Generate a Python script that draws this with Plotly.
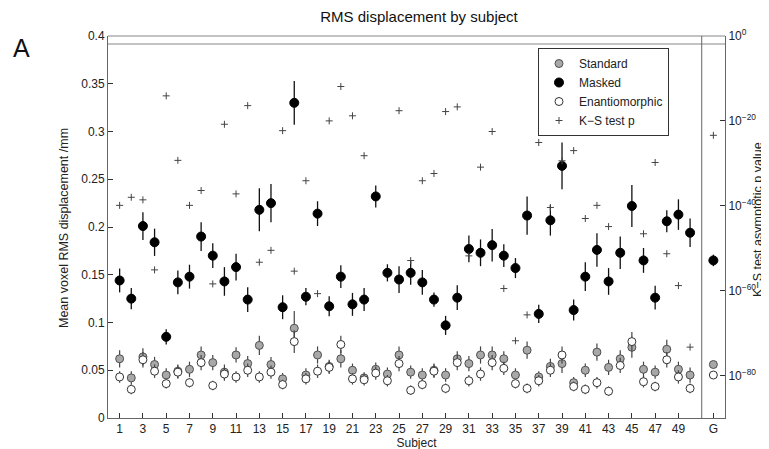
import plotly.graph_objects as go

# ---------------- data ----------------
subjects = list(range(1, 51))
group_x = 52
x_tick_vals = list(range(1, 50, 2)) + [52]
x_tick_text = [str(v) for v in range(1, 50, 2)] + ["G"]

masked = [0.144, 0.125, 0.201, 0.184, 0.085, 0.142, 0.148, 0.190, 0.170, 0.143,
          0.158, 0.124, 0.218, 0.225, 0.116, 0.330, 0.127, 0.214, 0.117, 0.148,
          0.119, 0.124, 0.232, 0.152, 0.145, 0.152, 0.142, 0.124, 0.097, 0.126,
          0.177, 0.173, 0.181, 0.170, 0.157, 0.212, 0.109, 0.207, 0.264, 0.113,
          0.148, 0.176, 0.143, 0.173, 0.222, 0.165, 0.126, 0.206, 0.213, 0.194]
masked_g = 0.165
masked_err = [0.0125, 0.011, 0.0145, 0.0143, 0.008, 0.0125, 0.0125, 0.015, 0.013, 0.015,
              0.014, 0.013, 0.0225, 0.020, 0.0125, 0.023, 0.009, 0.013, 0.0105, 0.012,
              0.012, 0.012, 0.0115, 0.009, 0.014, 0.0125, 0.013, 0.0075, 0.010, 0.013,
              0.014, 0.014, 0.017, 0.012, 0.0105, 0.020, 0.0095, 0.016, 0.0245, 0.011,
              0.015, 0.0175, 0.014, 0.017, 0.022, 0.013, 0.0125, 0.0115, 0.016, 0.015]
masked_err_g = 0.006

standard = [0.062, 0.042, 0.064, 0.056, 0.045, 0.049, 0.051, 0.066, 0.058, 0.048,
            0.066, 0.057, 0.076, 0.056, 0.041, 0.094, 0.045, 0.066, 0.054, 0.062,
            0.050, 0.042, 0.051, 0.046, 0.066, 0.048, 0.045, 0.050, 0.045, 0.062,
            0.057, 0.066, 0.066, 0.062, 0.045, 0.071, 0.043, 0.054, 0.057, 0.037,
            0.050, 0.069, 0.053, 0.062, 0.074, 0.051, 0.048, 0.072, 0.051, 0.045]
standard_g = 0.056
standard_err = [0.009, 0.007, 0.009, 0.008, 0.007, 0.007, 0.008, 0.009, 0.008, 0.008,
                0.008, 0.008, 0.010, 0.008, 0.006, 0.018, 0.007, 0.009, 0.007, 0.009,
                0.007, 0.006, 0.007, 0.007, 0.009, 0.007, 0.007, 0.007, 0.007, 0.008,
                0.008, 0.009, 0.009, 0.008, 0.007, 0.009, 0.006, 0.008, 0.010, 0.006,
                0.007, 0.009, 0.008, 0.009, 0.011, 0.008, 0.007, 0.010, 0.008, 0.008]
standard_err_g = 0.002

enantiomorphic = [0.043, 0.030, 0.061, 0.049, 0.036, 0.048, 0.037, 0.058, 0.034, 0.046,
                  0.043, 0.050, 0.043, 0.048, 0.035, 0.080, 0.041, 0.049, 0.053, 0.077,
                  0.041, 0.040, 0.047, 0.039, 0.057, 0.029, 0.035, 0.049, 0.031, 0.058,
                  0.039, 0.046, 0.058, 0.052, 0.036, 0.031, 0.039, 0.050, 0.066, 0.033,
                  0.030, 0.037, 0.028, 0.055, 0.080, 0.038, 0.033, 0.061, 0.043, 0.031]
enantiomorphic_g = 0.045
enantiomorphic_err = [0.006, 0.005, 0.008, 0.007, 0.005, 0.007, 0.005, 0.008, 0.005, 0.007,
                      0.006, 0.007, 0.006, 0.007, 0.005, 0.012, 0.006, 0.007, 0.007, 0.009,
                      0.006, 0.006, 0.007, 0.006, 0.008, 0.005, 0.005, 0.007, 0.005, 0.008,
                      0.006, 0.007, 0.008, 0.007, 0.005, 0.005, 0.006, 0.007, 0.009, 0.005,
                      0.005, 0.006, 0.005, 0.008, 0.010, 0.006, 0.005, 0.008, 0.007, 0.005]
enantiomorphic_err_g = 0.002

# K-S test asymptotic p value, stored as log10(p); None = not plotted
ks_log10_p = [-39.9, -38.0, -38.6, -55.1, -14.1, -29.3, -39.9, -36.4, -58.4, -20.8,
              -37.2, -16.4, -53.3, -50.5, -22.3, -55.4, -34.1, -60.7, -20.0, -11.9,
              -18.8, -28.2, None, None, -17.6, -52.9, -34.1, -32.4, -17.8, -16.7,
              -51.8, -30.9, -22.5, -59.5, -71.8, -65.7, -25.1, -40.4, -29.4, -27.0,
              -43.0, -39.9, -44.9, None, None, -46.6, -29.8, -51.3, -58.8, -73.3]
ks_log10_p_g = -23.4

left_ticks = [0, 0.05, 0.1, 0.15, 0.2, 0.25, 0.3, 0.35, 0.4]
left_tick_text = ["0", "0.05", "0.1", "0.15", "0.2", "0.25", "0.3", "0.35", "0.4"]
right_tick_exp = [0, -20, -40, -60, -80]

# ---------------- figure ----------------
xs = subjects + [group_x]
ks_p = [None if v is None else 10 ** v for v in ks_log10_p + [ks_log10_p_g]]

FONT = "Liberation Sans, Arial, Helvetica, sans-serif"
L, R, T, B = 100, 717, 28, 410
PW, PH = R - L, B - T


def px(xp):
    return (xp - L) / PW


def py(yp):
    return (B - yp) / PH


fig = go.Figure()

fig.add_trace(go.Scatter(
    x=xs, y=standard + [standard_g], name="Standard", mode="markers",
    marker=dict(size=8, color="#a8a8a8", line=dict(color="#505050", width=1)),
    error_y=dict(type="data", array=standard_err + [standard_err_g],
                 color="#444444", thickness=1.2, width=0),
))
fig.add_trace(go.Scatter(
    x=xs, y=masked + [masked_g], name="Masked", mode="markers",
    marker=dict(size=9, color="black", line=dict(color="black", width=1)),
    error_y=dict(type="data", array=masked_err + [masked_err_g],
                 color="#111111", thickness=1.3, width=0),
))
fig.add_trace(go.Scatter(
    x=xs, y=enantiomorphic + [enantiomorphic_g], name="Enantiomorphic", mode="markers",
    marker=dict(size=8, color="white", line=dict(color="#333333", width=1)),
    error_y=dict(type="data", array=enantiomorphic_err + [enantiomorphic_err_g],
                 color="#444444", thickness=1.2, width=0),
))
fig.add_trace(go.Scatter(
    x=xs, y=ks_p, name="K\u2212S test p", mode="markers", yaxis="y2",
    marker=dict(symbol="cross-thin", size=5, line=dict(color="#444444", width=1)),
))

axis_line = "#666666"
fig.update_layout(
    width=769, height=449,
    margin=dict(l=L, r=769 - R, t=T, b=449 - B, pad=0, autoexpand=False),
    paper_bgcolor="white", plot_bgcolor="white",
    font=dict(family=FONT, size=12, color="#222222"),
    title=dict(text="RMS displacement by subject", x=411 / 769, xanchor="center",
               y=1 - 3 / 449, yanchor="top", yref="container",
               font=dict(size=15, color="#111111")),
    xaxis=dict(range=[0, 53], tickvals=x_tick_vals, ticktext=x_tick_text,
               ticks="inside", ticklen=5, tickcolor="#333333", showline=True,
               linecolor=axis_line, linewidth=1, showgrid=False, zeroline=False,
               automargin=False, tickfont=dict(size=12),
               title=dict(text="Subject", standoff=0, font=dict(size=12))),
    yaxis=dict(range=[0, 0.4], tickvals=left_ticks, ticktext=left_tick_text,
               ticks="inside", ticklen=5, tickcolor="#333333", showline=True,
               linecolor=axis_line, linewidth=1, showgrid=False, zeroline=False,
               automargin=False, tickfont=dict(size=12)),
    yaxis2=dict(type="log", range=[-90, 0], overlaying="y", side="right",
                tickvals=[10 ** e for e in right_tick_exp],
                ticktext=["10<sup>%s</sup>" % (str(e).replace("-", "\u2212")) for e in right_tick_exp],
                ticks="inside", ticklen=5, tickcolor="#333333", showline=True,
                linecolor=axis_line, linewidth=1, showgrid=False, zeroline=False,
                automargin=False, tickfont=dict(size=12)),
    legend=dict(x=px(530), y=py(40), xanchor="left", yanchor="top",
                bordercolor="#333333", borderwidth=1, bgcolor="white",
                font=dict(size=12), tracegroupgap=0),
    showlegend=True,
)

# axis titles placed as rotated annotations
fig.add_annotation(text="Mean voxel RMS displacement /mm", xref="paper", yref="paper",
                   x=px(56), y=py(220), textangle=-90, showarrow=False,
                   xanchor="center", yanchor="middle", font=dict(size=12.5, color="#222222"))
fig.add_annotation(text="K\u2212S test asymptotic p value", xref="paper", yref="paper",
                   x=px(750), y=py(212), textangle=-90, showarrow=False,
                   xanchor="center", yanchor="middle", font=dict(size=12.5, color="#222222"))

# frame lines (top double line, separator before group, stray bottom line)
fig.add_shape(type="line", xref="paper", yref="paper", x0=0, x1=1, y0=1, y1=1,
              line=dict(color="#888888", width=1.2))
fig.add_shape(type="line", xref="paper", yref="paper", x0=0, x1=1,
              y0=py(36), y1=py(36), line=dict(color="#888888", width=1.2))
fig.add_shape(type="line", xref="x", yref="paper", x0=51, x1=51, y0=0, y1=1,
              line=dict(color=axis_line, width=1))
fig.add_shape(type="line", xref="paper", yref="paper", x0=px(262), x1=px(769),
              y0=py(447), y1=py(447), line=dict(color="#cccccc", width=1))

fig.add_annotation(text="A", xref="paper", yref="paper",
                   x=px(13), y=py(40), xanchor="center", yanchor="middle",
                   showarrow=False, font=dict(size=25, color="#111111"))

fig.write_html("out.html")
